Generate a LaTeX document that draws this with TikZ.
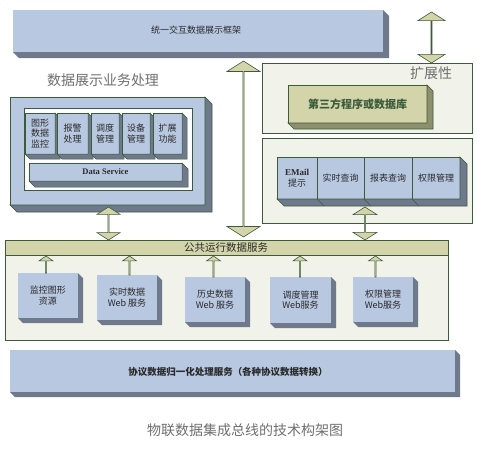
\documentclass[tikz,border=0pt]{standalone}
\usepackage{fontspec}
\setmainfont{Noto Sans CJK SC}
\newfontfamily\latinserif{Liberation Serif}
\usetikzlibrary{shapes.arrows,calc}
\definecolor{blueF}{HTML}{B8C8E1}
\definecolor{blueS}{HTML}{6E7A8C}
\definecolor{oliveF}{HTML}{D3D4AA}
\definecolor{oliveS}{HTML}{8E8F6C}
\definecolor{paleF}{HTML}{F1F2EA}
\definecolor{edgeG}{HTML}{3B5B3B}
\definecolor{txtD}{HTML}{2A2A2A}
\definecolor{txtG}{HTML}{707070}
\tikzset{
  base/.style={rectangle,inner sep=0pt,outer sep=0pt,align=center,text=txtD},
  bluebox/.style={base,fill=blueF},
  framed/.style={draw=edgeG,line width=0.6pt},
  fatarrow/.style={fill=oliveF,draw=edgeG,line width=0.6pt,inner sep=0pt,outer sep=0pt},
  dblarrow/.style={fatarrow,double arrow,shape border rotate=90,double arrow tip angle=115},
  uparrow/.style={fatarrow,single arrow,shape border rotate=90,single arrow tip angle=110,minimum width=14pt,single arrow head extend=3pt,anchor=tail},
  graytitle/.style={text=txtG,font=\fontsize{14}{16}\selectfont,inner sep=0pt},
  small/.style={font=\fontsize{9}{10.5}\selectfont},
}
\newcommand\bx[7][]{\node[base,#1,minimum width={#5-#3},minimum height={#6-#4},anchor=north west] (#2) at (#3,#4) {#7};}
\newcommand\xtr[3]{\fill[#3] (#1.north east) -- ++(#2,#2) -- ($(#1.south east)+(#2,#2)$) -- ($(#1.south west)+(#2,#2)$) -- (#1.south west) -- (#1.south east) -- cycle;}
\begin{document}
\begin{tikzpicture}[x=1pt,y=-1pt]
\useasboundingbox[fill=white] (0,0) rectangle (477,455);
% top bar
\bx[bluebox,font=\fontsize{9}{11}\selectfont]{top}{13}{10}{383}{52}{}
\xtr{top}{6}{blueS}
\node[text=txtD,font=\fontsize{9}{11}\selectfont] (toptxt) at (196,30) {统一交互数据展示框架};
% left business box
\node[graytitle] (ltitle) at (103,80) {数据展示业务处理};
\bx[bluebox,framed]{lbox}{10}{97}{205}{205}{}
\xtr{lbox}{7}{blueS,draw=edgeG,line width=0.6pt}
\bx[base,fill=white,draw=edgeG,line width=0.8pt]{ibox}{24}{108}{192}{190}{}
\bx[bluebox,framed,small]{b1}{25}{113}{55}{154}{图形\\数据\\监控}
\xtr{b1}{5}{blueS,draw=edgeG,line width=0.5pt}
\bx[bluebox,framed,small]{b2}{57}{113}{88}{154}{报警\\处理}
\xtr{b2}{5}{blueS,draw=edgeG,line width=0.5pt}
\bx[bluebox,framed,small]{b3}{91}{113}{119}{154}{调度\\管理}
\xtr{b3}{5}{blueS,draw=edgeG,line width=0.5pt}
\bx[bluebox,framed,small]{b4}{122}{113}{150}{154}{设备\\管理}
\xtr{b4}{5}{blueS,draw=edgeG,line width=0.5pt}
\bx[bluebox,framed,small]{b5}{153}{113}{182}{154}{扩展\\功能}
\xtr{b5}{5}{blueS,draw=edgeG,line width=0.5pt}
\bx[bluebox,framed,font=\latinserif\bfseries\fontsize{8.5}{10}\selectfont]{ds}{29}{163}{182}{181}{Data Service}
\xtr{ds}{6}{blueS,draw=edgeG,line width=0.5pt}
% extension box
\bx[base,fill=paleF,framed]{ext}{262}{63}{472}{133}{}
\node[graytitle] (exttitle) at (431,73) {扩展性};
\bx[base,fill=oliveF,framed,text=edgeG,font=\bfseries\fontsize{11}{13}\selectfont]{third}{288}{85}{427}{123}{第三方程序或数据库}
\xtr{third}{6}{oliveS,draw=edgeG,line width=0.6pt}
% second extension box with tabs
\bx[base,fill=paleF,framed]{ext2}{262}{138}{472}{223}{}
\bx[bluebox,framed,small]{t1}{277}{157}{317}{199}{{\latinserif\bfseries EMail}\\提示}
\bx[bluebox,framed,small]{t2}{317}{157}{364}{199}{实时查询}
\bx[bluebox,framed,small]{t3}{364}{157}{412}{199}{报表查询}
\bx[bluebox,framed,small]{t4}{412}{157}{460}{199}{权限管理}
\filldraw[blueS,draw=edgeG,line width=0.6pt] (t4.north east) -- ++(7,7) -- ($(t4.south east)+(7,7)$) -- ($(t1.south west)+(7,7)$) -- (t1.south west) -- (t4.south east) -- cycle;
\draw[edgeG,line width=0.5pt] (t1.south east) -- ++(7,7) (t2.south east) -- ++(7,7) (t3.south east) -- ++(7,7);
% public runtime service container
\bx[base,fill=paleF,framed]{cont}{5}{240}{448}{340}{}
\bx[base,fill=oliveF,framed,font=\fontsize{10.5}{12}\selectfont]{pub}{5}{240}{448}{255}{}
\node[text=txtD,font=\fontsize{10.5}{12}\selectfont] (pubtxt) at (226,247.5) {公共运行数据服务};
\bx[bluebox,small]{s1}{18}{273}{78}{318}{监控图形\\资源}
\xtr{s1}{5}{blueS}
\bx[bluebox,small]{s2}{97}{275}{157}{320}{实时数据\\Web 服务}
\xtr{s2}{5}{blueS}
\bx[bluebox,small]{s3}{185}{277}{245}{322}{历史数据\\Web 服务}
\xtr{s3}{5}{blueS}
\bx[bluebox,small]{s4}{270}{277}{331}{323}{调度管理\\Web服务}
\xtr{s4}{5}{blueS}
\bx[bluebox,small]{s5}{353}{277}{413}{322}{权限管理\\Web服务}
\xtr{s5}{5}{blueS}
\node[uparrow,minimum height=17pt] (u1) at (46,273) {};
\node[uparrow,minimum height=19pt] (u2) at (129.5,275) {};
\node[uparrow,minimum height=21pt] (u3) at (213.5,277) {};
\node[uparrow,minimum height=21pt] (u4) at (300,277) {};
\node[uparrow,minimum height=21pt] (u5) at (375.5,277) {};
% double arrows
\node[dblarrow,minimum height=51pt,minimum width=27pt,double arrow head extend=7.5pt] (atr) at (431.5,37.5) {};
\node[dblarrow,minimum height=176pt,minimum width=33pt,double arrow head extend=8pt] (am) at (243.5,149) {};
\node[dblarrow,minimum height=33pt,minimum width=23pt,double arrow head extend=5pt] (a1) at (108.5,223.5) {};
\node[dblarrow,minimum height=33pt,minimum width=24pt,double arrow head extend=5pt] (a2) at (365,223.5) {};
% protocol bar
\bx[bluebox,font=\bfseries\fontsize{9.5}{11}\selectfont]{proto}{10}{350}{455}{392}{}
\xtr{proto}{5}{blueS}
\node[text=txtD,font=\bfseries\fontsize{9.5}{11}\selectfont] (prototxt) at (228,372) {协议数据归一化处理服务（各种协议数据转换）};
% caption
\node[graytitle] (caption) at (245,430) {物联数据集成总线的技术构架图};
\end{tikzpicture}
\end{document}
